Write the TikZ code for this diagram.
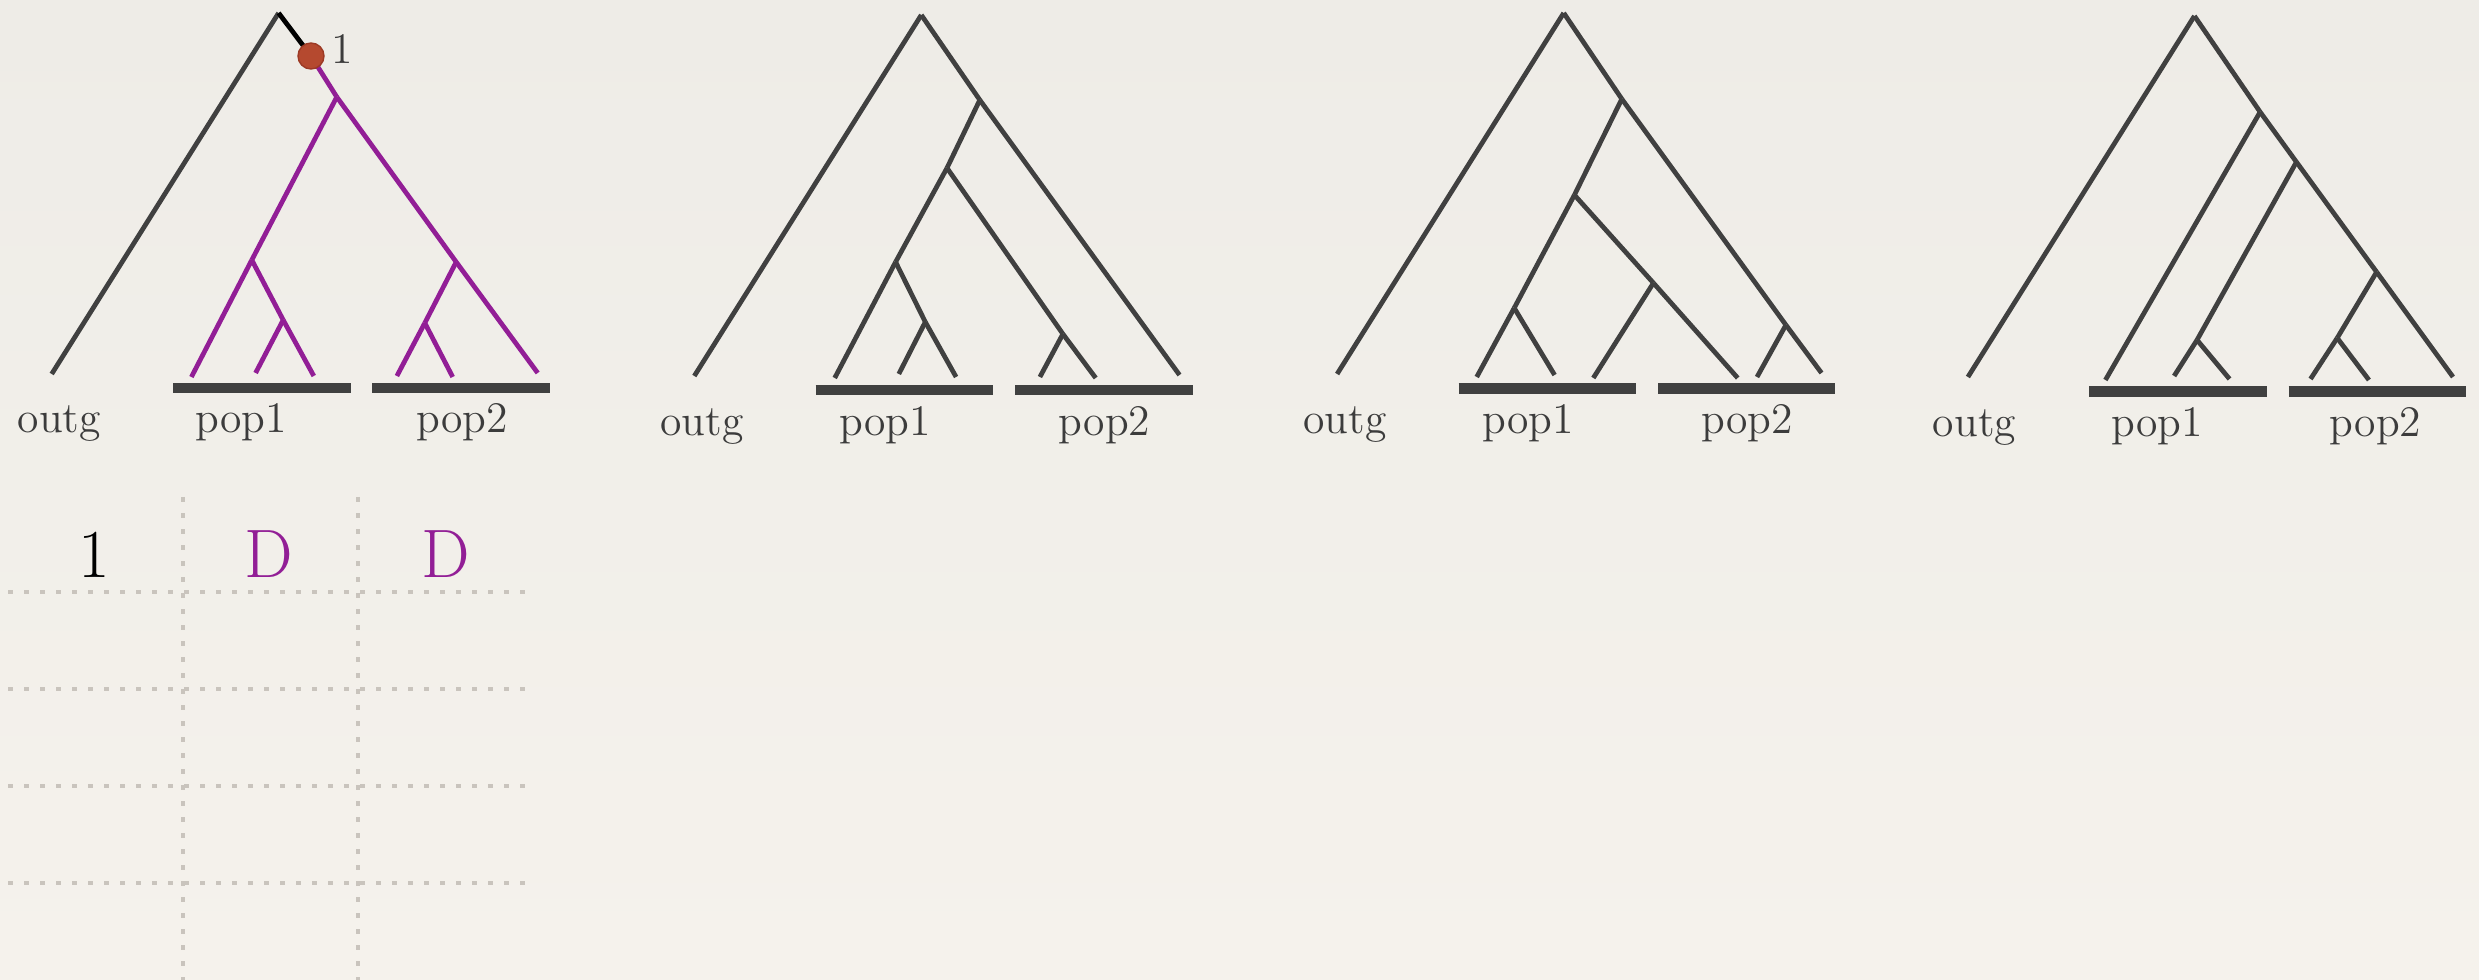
\documentclass[tikz,border=0pt]{standalone}
\usepackage{tikz}
\definecolor{treegray}{HTML}{404040}
\definecolor{treepurple}{HTML}{921E96}
\definecolor{dotred}{HTML}{B5492F}
\definecolor{dotedge}{HTML}{9C3A25}
\definecolor{gridgray}{HTML}{C9C4BD}
\definecolor{bgtop}{HTML}{EEECE7}
\definecolor{bgmid}{HTML}{E5E2DD}
\definecolor{bgbot}{HTML}{F5F2EC}
\definecolor{labelgray}{HTML}{3C3C3C}
\tikzset{
  branch/.style={draw=treegray, line width=1.35pt},
  pbranch/.style={draw=treepurple, line width=1.35pt},
  stem/.style={draw=black, line width=1.35pt},
  popbar/.style={draw=treegray, line width=2.9pt},
  lbl/.style={anchor=base, inner sep=0pt, text=labelgray, font=\fontsize{12.4}{15}\selectfont},
  hgrid/.style={draw=gridgray, line width=1.35pt, dash pattern=on 0.048cm off 0.112cm},
  vgrid/.style={draw=gridgray, line width=1.35pt, dash pattern=on 0.048cm off 0.112cm},
  bigtxt/.style={anchor=base, inner sep=0pt, font=\fontsize{19.5}{23}\selectfont}
}
\begin{document}
\begin{tikzpicture}[x=0.01cm, y=-0.01cm]
\useasboundingbox (0,0) rectangle (2479,980);
\shade[top color=bgtop, middle color=bgmid, bottom color=bgbot] (0,0) rectangle (2479,980);

% ---------------- Tree 1 ----------------
\coordinate (r1) at (278.6,13);
\coordinate (o1) at (51.7,374);
\coordinate (d1) at (311,56);
\coordinate (a1) at (336.8,97);
\coordinate (b1) at (251.8,260);
\coordinate (c1) at (456.2,262);
\coordinate (e1) at (283.2,320);
\coordinate (f1) at (424.8,323);
\coordinate (t1a) at (191.4,377);
\coordinate (t1b) at (255.6,373);
\coordinate (t1c) at (313.8,376);
\coordinate (t1d) at (396.9,376);
\coordinate (t1e) at (452.7,377);
\coordinate (t1f) at (537.7,373);
\draw[branch] (r1) -- (o1);
\draw[stem] (r1) -- (d1);
\draw[pbranch] (d1) -- (a1);
\draw[pbranch] (a1) -- (b1);
\draw[pbranch] (a1) -- (c1);
\draw[pbranch] (c1) -- (t1f);
\draw[pbranch] (b1) -- (t1a);
\draw[pbranch] (b1) -- (e1);
\draw[pbranch] (e1) -- (t1c);
\draw[pbranch] (e1) -- (t1b);
\draw[pbranch] (c1) -- (f1);
\draw[pbranch] (f1) -- (t1d);
\draw[pbranch] (f1) -- (t1e);
\node[circle, fill=dotred, draw=dotedge, line width=0.4pt, minimum size=0.26cm, inner sep=0pt] (dot1) at (d1) {};
\node[lbl] (n1) at (342,64) {1};
\coordinate (p1s) at (173,388); \coordinate (p1e) at (351,388);
\coordinate (q1s) at (372.4,388); \coordinate (q1e) at (550.3,388);
\draw[popbar] (p1s) -- (p1e);
\draw[popbar] (q1s) -- (q1e);
\node[lbl] (og1) at (59.3,433) {outg};
\node[lbl] (pa1) at (241,433) {pop1};
\node[lbl] (pb1) at (462,433) {pop2};

% ---------------- Tree 2 ----------------
\coordinate (r2) at (921.3,15);
\coordinate (o2) at (694.3,376);
\coordinate (a2) at (979.8,100);
\coordinate (b2) at (947,168);
\coordinate (c2) at (895.6,262);
\coordinate (e2) at (925.3,322);
\coordinate (g2) at (1062.9,334);
\coordinate (t2a) at (834.7,378);
\coordinate (t2b) at (898.8,374);
\coordinate (t2c) at (956.1,377);
\coordinate (t2d) at (1039.9,377);
\coordinate (t2e) at (1095.7,378);
\coordinate (t2f) at (1179.5,375);
\draw[branch] (r2) -- (o2);
\draw[branch] (r2) -- (a2);
\draw[branch] (a2) -- (t2f);
\draw[branch] (a2) -- (b2);
\draw[branch] (b2) -- (c2);
\draw[branch] (c2) -- (t2a);
\draw[branch] (c2) -- (e2);
\draw[branch] (e2) -- (t2c);
\draw[branch] (e2) -- (t2b);
\draw[branch] (b2) -- (g2);
\draw[branch] (g2) -- (t2e);
\draw[branch] (g2) -- (t2d);
\coordinate (p2s) at (815.7,390); \coordinate (p2e) at (992.9,390);
\coordinate (q2s) at (1015.4,390); \coordinate (q2e) at (1192.6,390);
\draw[popbar] (p2s) -- (p2e);
\draw[popbar] (q2s) -- (q2e);
\node[lbl] (og2) at (702,436) {outg};
\node[lbl] (pa2) at (884.9,436) {pop1};
\node[lbl] (pb2) at (1104.4,436) {pop2};

% ---------------- Tree 3 ----------------
\coordinate (r3) at (1563.7,13);
\coordinate (o3) at (1337.1,374);
\coordinate (a3) at (1621.8,99);
\coordinate (b3) at (1574.4,195);
\coordinate (c3) at (1514.2,308);
\coordinate (g3) at (1653.4,283);
\coordinate (h3) at (1785.9,325);
\coordinate (t3a) at (1476.7,377);
\coordinate (t3b) at (1554.6,375);
\coordinate (t3c) at (1593.3,378);
\coordinate (t3d) at (1737.7,378);
\coordinate (t3e) at (1757,377);
\coordinate (t3f) at (1821.5,373);
\draw[branch] (r3) -- (o3);
\draw[branch] (r3) -- (a3);
\draw[branch] (a3) -- (h3);
\draw[branch] (h3) -- (t3f);
\draw[branch] (h3) -- (t3e);
\draw[branch] (a3) -- (b3);
\draw[branch] (b3) -- (c3);
\draw[branch] (c3) -- (t3a);
\draw[branch] (c3) -- (t3b);
\draw[branch] (b3) -- (g3);
\draw[branch] (g3) -- (t3d);
\draw[branch] (g3) -- (t3c);
\coordinate (p3s) at (1458.5,388.5); \coordinate (p3e) at (1635.6,388.5);
\coordinate (q3s) at (1658.2,388.5); \coordinate (q3e) at (1835.3,388.5);
\draw[popbar] (p3s) -- (p3e);
\draw[popbar] (q3s) -- (q3e);
\node[lbl] (og3) at (1345,434) {outg};
\node[lbl] (pa3) at (1527.9,434) {pop1};
\node[lbl] (pb3) at (1747.3,434) {pop2};

% ---------------- Tree 4 ----------------
\coordinate (r4) at (2194.4,16);
\coordinate (o4) at (1967.9,377);
\coordinate (a4) at (2260.1,112);
\coordinate (b4) at (2296.4,162);
\coordinate (c4) at (2376.6,272);
\coordinate (e4) at (2197,340);
\coordinate (f4) at (2337.2,338);
\coordinate (t4a) at (2105.4,380);
\coordinate (t4b) at (2174.1,376);
\coordinate (t4c) at (2229.5,379);
\coordinate (t4d) at (2310.5,379);
\coordinate (t4e) at (2368.9,380);
\coordinate (t4f) at (2453,377);
\draw[branch] (r4) -- (o4);
\draw[branch] (r4) -- (a4);
\draw[branch] (a4) -- (b4);
\draw[branch] (b4) -- (c4);
\draw[branch] (c4) -- (t4f);
\draw[branch] (a4) -- (t4a);
\draw[branch] (b4) -- (e4);
\draw[branch] (e4) -- (t4b);
\draw[branch] (e4) -- (t4c);
\draw[branch] (c4) -- (f4);
\draw[branch] (f4) -- (t4d);
\draw[branch] (f4) -- (t4e);
\coordinate (p4s) at (2089.3,391.5); \coordinate (p4e) at (2266.6,391.5);
\coordinate (q4s) at (2288.7,391.5); \coordinate (q4e) at (2466.3,391.5);
\draw[popbar] (p4s) -- (p4e);
\draw[popbar] (q4s) -- (q4e);
\node[lbl] (og4) at (1974.5,437) {outg};
\node[lbl] (pa4) at (2156.9,437) {pop1};
\node[lbl] (pb4) at (2375.6,437) {pop2};

% ---------------- Grid table ----------------
\foreach \yy/\nm in {592/h1, 689/h2, 786/h3, 883/h4} {
  \coordinate (\nm s) at (8,\yy); \coordinate (\nm e) at (527,\yy);
  \draw[hgrid] (\nm s) -- (\nm e);
}
\foreach \xx/\nm in {183/v1, 358/v2} {
  \coordinate (\nm s) at (\xx,497); \coordinate (\nm e) at (\xx,985);
  \draw[vgrid] (\nm s) -- (\nm e);
}
\node[bigtxt, text=black] (c1txt) at (94,578) {1};
\node[bigtxt, text=treepurple] (c2txt) at (269,578) {D};
\node[bigtxt, text=treepurple] (c3txt) at (446,578) {D};
\end{tikzpicture}
\end{document}
